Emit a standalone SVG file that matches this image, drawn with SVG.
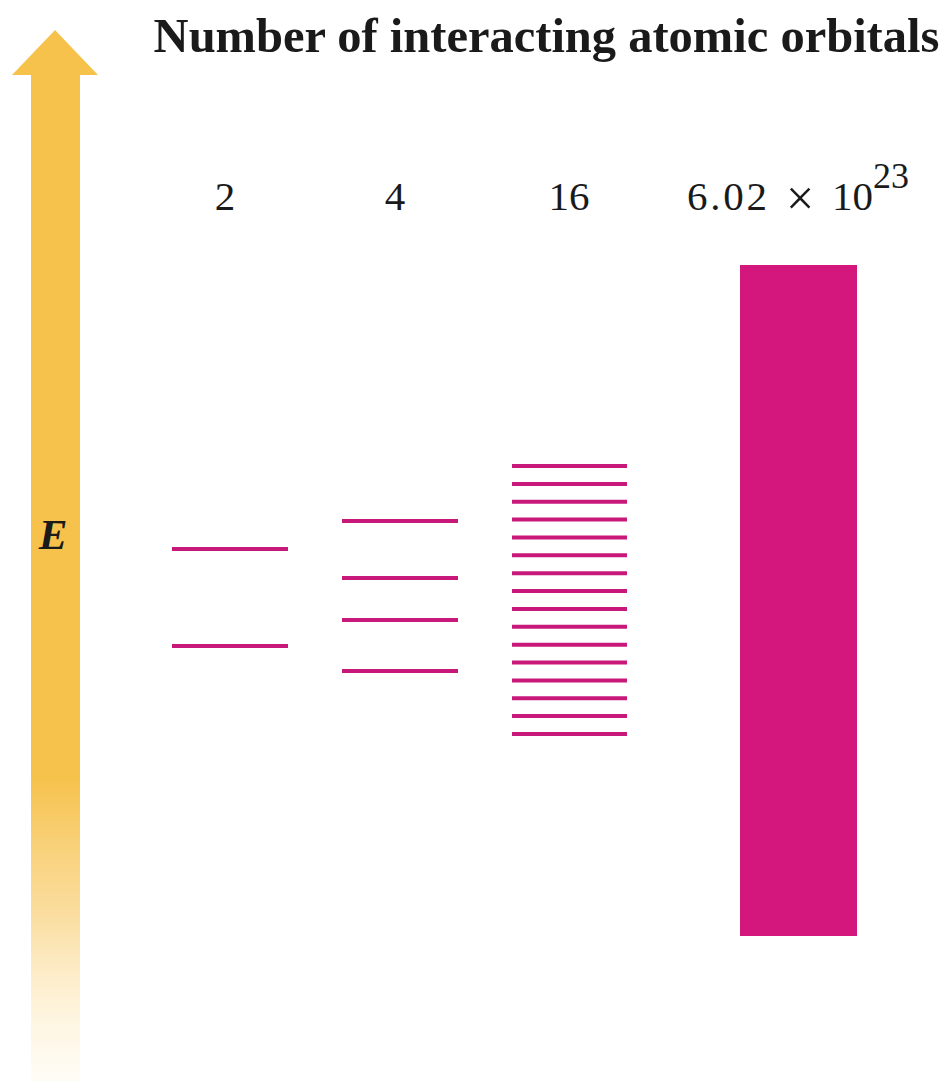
<svg xmlns="http://www.w3.org/2000/svg" width="946" height="1081" viewBox="0 0 946 1081">
<defs>
<linearGradient id="fade" x1="0" y1="0" x2="0" y2="1081" gradientUnits="userSpaceOnUse">
<stop offset="0" stop-color="#F6C24C"/>
<stop offset="0.72" stop-color="#F6C24C"/>
<stop offset="0.85" stop-color="#F9D68A" stop-opacity="0.8"/>
<stop offset="1" stop-color="#FFF6E0" stop-opacity="0.3"/>
</linearGradient>
<style>
.lvl{stroke:#C8197B;stroke-width:4;}
.num{font-family:"Liberation Serif",serif;font-size:41px;fill:#1a1a1a;}
.sup{font-family:"Liberation Serif",serif;font-size:36px;fill:#1a1a1a;}
.times{font-family:"Liberation Serif",serif;font-size:50px;fill:#1a1a1a;}
.title{font-family:"Liberation Serif",serif;font-size:48.5px;font-weight:bold;fill:#1a1a1a;}
</style>
</defs>
<rect width="946" height="1081" fill="#ffffff"/>
<g id="energy-axis">
<path d="M31,75 L12,75 L55,30 L98,75 L80,75 L80,1081 L31,1081 Z" fill="url(#fade)"/>
<text x="53" y="549" text-anchor="middle" font-family="Liberation Serif,serif" font-size="43" font-weight="bold" font-style="italic" fill="#1a1a1a">E</text>
</g>
<g id="title"><text class="title" x="546.5" y="52" text-anchor="middle">Number of interacting atomic orbitals</text></g>
<g id="col-2">
<text class="num" x="225" y="210" text-anchor="middle">2</text>
<line class="lvl" x1="172" y1="549" x2="288" y2="549"/>
<line class="lvl" x1="172" y1="646" x2="288" y2="646"/>
</g>
<g id="col-4">
<text class="num" x="395" y="210" text-anchor="middle">4</text>
<line class="lvl" x1="342" y1="521" x2="458" y2="521"/>
<line class="lvl" x1="342" y1="578" x2="458" y2="578"/>
<line class="lvl" x1="342" y1="620" x2="458" y2="620"/>
<line class="lvl" x1="342" y1="671" x2="458" y2="671"/>
</g>
<g id="col-16">
<text class="num" x="569" y="210" text-anchor="middle">16</text>
<line class="lvl" x1="512" y1="466" x2="627" y2="466"/>
<line class="lvl" x1="512" y1="483.9" x2="627" y2="483.9"/>
<line class="lvl" x1="512" y1="501.7" x2="627" y2="501.7"/>
<line class="lvl" x1="512" y1="519.6" x2="627" y2="519.6"/>
<line class="lvl" x1="512" y1="537.5" x2="627" y2="537.5"/>
<line class="lvl" x1="512" y1="555.3" x2="627" y2="555.3"/>
<line class="lvl" x1="512" y1="573.2" x2="627" y2="573.2"/>
<line class="lvl" x1="512" y1="591.1" x2="627" y2="591.1"/>
<line class="lvl" x1="512" y1="608.9" x2="627" y2="608.9"/>
<line class="lvl" x1="512" y1="626.8" x2="627" y2="626.8"/>
<line class="lvl" x1="512" y1="644.7" x2="627" y2="644.7"/>
<line class="lvl" x1="512" y1="662.5" x2="627" y2="662.5"/>
<line class="lvl" x1="512" y1="680.4" x2="627" y2="680.4"/>
<line class="lvl" x1="512" y1="698.3" x2="627" y2="698.3"/>
<line class="lvl" x1="512" y1="716.1" x2="627" y2="716.1"/>
<line class="lvl" x1="512" y1="734" x2="627" y2="734"/>
</g>
<g id="col-avogadro">
<text class="num" x="687" y="210" textLength="80">6.02</text>
<text class="times" x="800" y="215" text-anchor="middle">×</text>
<text class="num" x="832" y="210">10</text>
<text class="sup" x="873" y="188">23</text>
<rect x="740" y="265" width="117" height="671" fill="#D3177D"/>
</g>
</svg>
